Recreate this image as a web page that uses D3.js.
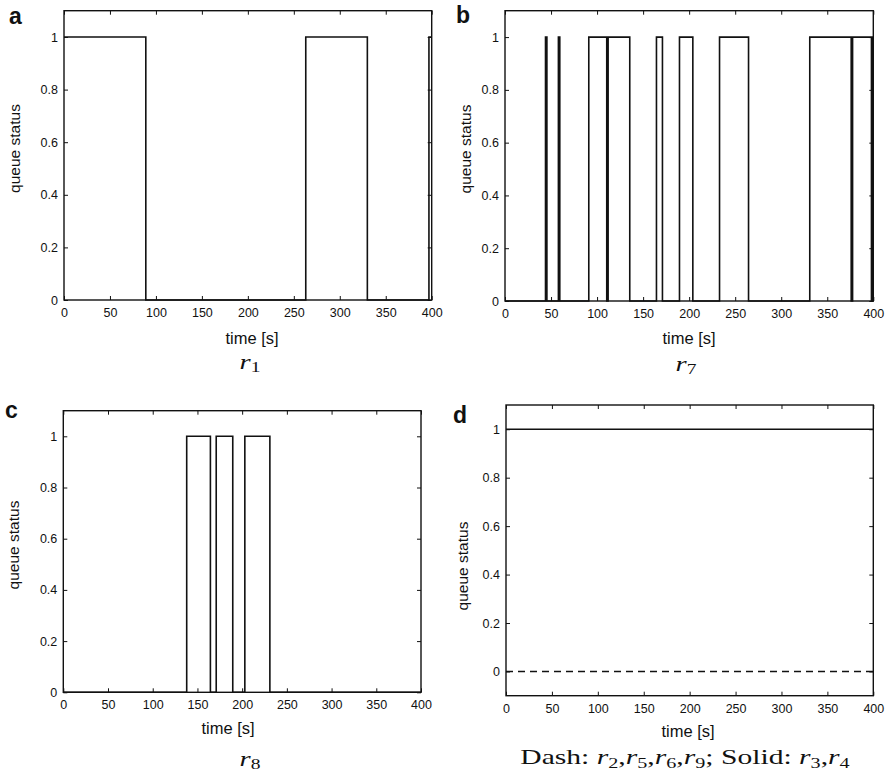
<!DOCTYPE html>
<html><head><meta charset="utf-8">
<script src="https://cdn.jsdelivr.net/npm/d3@7"></script>
<style>body{margin:0;background:#fff}svg{display:block}</style>
</head><body>
<svg id="c" width="889" height="775"></svg>
<script>
// ---- data ----
const xTicks = [0, 50, 100, 150, 200, 250, 300, 350, 400];
const yTicks = [0, 0.2, 0.4, 0.6, 0.8, 1];
// panel a: r1 (step-after transitions)
const aTimes = [0, 89, 263, 330, 397, 400];
const aStatus = [1, 0, 1, 0, 1, 1];
// panel b: r7
const bTimes = [0, 44, 45.5, 58, 59.5, 91, 110.5, 112, 135.5, 164.5, 171, 189.5, 204, 233, 264.5, 331, 376, 377.5, 398, 399.5, 400];
const bStatus = [0, 1, 0, 1, 0, 1, 0, 1, 0, 1, 0, 1, 0, 1, 0, 1, 0, 1, 0, 1, 1];
// panel c: r8
const cTimes = [0, 138, 164.5, 171, 189.5, 203, 231, 400];
const cStatus = [0, 1, 0, 1, 0, 1, 0, 0];
// panel d: dash r2,r5,r6,r9 ; solid r3,r4
const dTimes = [0, 400];
const dDash = [0, 0];
const dSolid = [1, 1];

const svg = d3.select("#c");
const SANS = "Helvetica, Arial, 'Liberation Sans', sans-serif";
const SERIF = "'Liberation Serif', 'Times New Roman', serif";

function panel(cfg) {
  const x = d3.scaleLinear().domain([0, 400]).range([cfg.l, cfg.r]);
  const y = d3.scaleLinear().domain(cfg.ydom).range([cfg.b, cfg.t]);
  const g = svg.append("g");
  // data lines
  cfg.series.forEach(s => {
    const pts = s.times.map((t, i) => [t, s.vals[i]]);
    g.append("path")
      .datum(pts)
      .attr("fill", "none")
      .attr("stroke", "#111")
      .attr("stroke-width", 1.6)
      .attr("stroke-dasharray", s.dash ? "7,5" : null)
      .attr("d", d3.line().x(d => x(d[0])).y(d => y(d[1])).curve(d3.curveStepAfter));
  });
  // axes (ticks inward, MATLAB style box)
  const ax = (gen, tr) => {
    const a = g.append("g").attr("transform", tr).call(gen);
    a.select(".domain").remove();
    a.selectAll("line").attr("stroke", "#111").attr("stroke-width", 1);
    a.selectAll("text").attr("font-family", SANS).attr("font-size", 12.5).attr("fill", "#111");
    return a;
  };
  ax(d3.axisBottom(x).tickValues(xTicks).tickSize(-4).tickPadding(8).tickFormat(d3.format("d")), `translate(0,${cfg.b})`);
  ax(d3.axisTop(x).tickValues(xTicks).tickSize(-4).tickFormat(""), `translate(0,${cfg.t})`);
  ax(d3.axisLeft(y).tickValues(yTicks).tickSize(-4).tickPadding(6).tickFormat(d => d === 0 || d === 1 ? String(d) : d3.format(".1f")(d)), `translate(${cfg.l},0)`);
  ax(d3.axisRight(y).tickValues(yTicks).tickSize(-4).tickFormat(""), `translate(${cfg.r},0)`);
  g.append("rect").attr("x", cfg.l).attr("y", cfg.t).attr("width", cfg.r - cfg.l).attr("height", cfg.b - cfg.t)
    .attr("fill", "none").attr("stroke", "#111").attr("stroke-width", 1.4);
  // labels
  g.append("text").text(cfg.letter).attr("x", cfg.letterPos[0]).attr("y", cfg.letterPos[1])
    .attr("font-family", SANS).attr("font-weight", "bold").attr("font-size", 23).attr("fill", "#111");
  g.append("text").text("queue status")
    .attr("transform", `translate(${cfg.yl[0]},${cfg.yl[1]}) rotate(-90)`)
    .attr("text-anchor", "middle").attr("dominant-baseline", "central")
    .attr("font-family", SANS).attr("font-size", 15.5).attr("fill", "#111");
  g.append("text").text("time [s]").attr("x", cfg.xl[0]).attr("y", cfg.xl[1])
    .attr("text-anchor", "middle").attr("font-family", SANS).attr("font-size", 16.5).attr("fill", "#111");
  // caption with math, horizontally widened like Computer Modern
  const capG = g.append("g").attr("transform", `translate(${cfg.cap[0]},${cfg.cap[1]})`);
  const cap = capG.append("text").attr("x", 0).attr("y", 0)
    .attr("text-anchor", "middle").attr("font-family", SERIF).attr("font-size", 22).attr("fill", "#111");
  cfg.caption.forEach(p => {
    const ts = cap.append("tspan").text(p.t);
    if (p.i) ts.attr("font-style", "italic");
    if (p.sub) ts.attr("font-size", 15).attr("baseline-shift", "-25%");
  });
  const w = cap.node().getBBox().width;
  const sx = cfg.capW ? cfg.capW / w : 1.3;
  capG.attr("transform", `translate(${cfg.cap[0]},${cfg.cap[1]}) scale(${sx},1)`);
}

const sub = (n) => [{t: "r", i: true}, {t: n, sub: true}];

panel({l: 64, r: 431.7, t: 10.7, b: 300, ydom: [0, 1.1], letter: "a", letterPos: [9, 24],
  yl: [14, 148.5], xl: [252, 344], cap: [250, 369], caption: sub("1"),
  series: [{times: aTimes, vals: aStatus}]});
panel({l: 505, r: 873.3, t: 10.7, b: 301, ydom: [0, 1.1], letter: "b", letterPos: [456, 23],
  yl: [465, 149], xl: [689, 344], cap: [686, 371], caption: sub("7"),
  series: [{times: bTimes, vals: bStatus}]});
panel({l: 63.3, r: 421, t: 410.7, b: 692.3, ydom: [0, 1.1], letter: "c", letterPos: [5, 418],
  yl: [13, 545], xl: [228, 734], cap: [250, 766], caption: sub("8"),
  series: [{times: cTimes, vals: cStatus}]});
panel({l: 506, r: 873.3, t: 405, b: 695.7, ydom: [-0.1, 1.1], letter: "d", letterPos: [453, 423],
  yl: [462, 566], xl: [688, 737], cap: [685, 764], capW: 330,
  caption: [{t: "Dash: "}, ...sub("2"), {t: ","}, ...sub("5"), {t: ","}, ...sub("6"), {t: ","}, ...sub("9"),
            {t: "; Solid: "}, ...sub("3"), {t: ","}, ...sub("4")],
  series: [{times: dTimes, vals: dDash, dash: true}, {times: dTimes, vals: dSolid}]});
</script>
</body></html>
